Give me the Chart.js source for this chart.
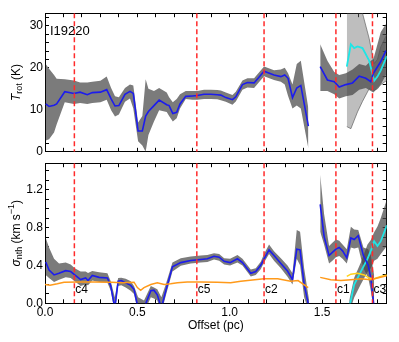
<!DOCTYPE html>
<html>
<head>
<meta charset="utf-8">
<script src="https://cdn.jsdelivr.net/npm/chart.js@4"></script>
<style>
  body { margin: 0; background: #fff; }
  #wrap { position: relative; width: 399px; height: 342px; overflow: hidden; }
  canvas { position: absolute; left: 0; }
  #topChart { top: 0; }
  #botChart { top: 150px; }
</style>
</head>
<body>
<div id="wrap">
  <canvas id="topChart" width="399" height="165"></canvas>
  <canvas id="botChart" width="399" height="192"></canvas>
</div>
<script>
// ---- top panel: T_rot (K) ----
// blue profile, first piece
const tOffA = [0.004, 0.022, 0.049, 0.063, 0.107, 0.157, 0.19, 0.229, 0.256, 0.30, 0.334, 0.358, 0.379, 0.40, 0.433, 0.46, 0.478, 0.504, 0.527, 0.545, 0.56, 0.59, 0.618, 0.659, 0.672, 0.692, 0.713, 0.731, 0.762, 0.798, 0.825, 0.861, 0.898, 0.933, 0.952, 0.979, 1.015, 1.033, 1.069, 1.096, 1.132, 1.186, 1.24, 1.277, 1.298, 1.316, 1.34, 1.363, 1.385, 1.426];
const tRotA = [11.4, 10.8, 11.1, 11.4, 14.3, 13.9, 14.2, 13.6, 14.1, 14.2, 14.8, 12.6, 10.9, 11.0, 13.7, 14.4, 13.9, 4.95, 4.95, 8.5, 9.6, 11.0, 12.3, 11.2, 11.0, 9.1, 9.4, 11.4, 13.2, 13.3, 13.4, 13.7, 13.7, 13.6, 13.5, 12.9, 12.4, 13.1, 16.0, 16.5, 16.4, 19.2, 18.3, 17.9, 18.3, 17.5, 12.9, 15.2, 15.8, 6.1];
const tLoA = [2.7, 3.0, 4.6, 6.5, 11.8, 11.4, 11.6, 11.4, 11.6, 11.8, 12.4, 9.9, 8.4, 8.9, 11.9, 12.7, 10.3, 2.5, 1.5, 0, 4, 7.2, 9.9, 9.5, 8.5, 7.2, 8.0, 10.3, 12.6, 12.4, 12.4, 12.6, 12.6, 12.5, 12.3, 11.9, 11.2, 12.0, 14.8, 15.3, 15.2, 18.0, 17.1, 16.7, 16.0, 13.3, 10.3, 11.0, 10.3, 0.8];
const tHiA = [20.9, 19.8, 18.3, 17.4, 17.3, 17.0, 16.5, 16.5, 16.7, 16.9, 17.9, 15.2, 13.2, 13.0, 15.2, 16.0, 15.8, 7.0, 8.5, 17.3, 15, 14.5, 15.2, 14.1, 13.0, 11.8, 12.6, 13.7, 14.5, 14.5, 14.5, 14.8, 14.8, 14.7, 14.6, 14.1, 13.5, 14.3, 17.0, 17.5, 17.5, 20.3, 19.4, 19.6, 20.0, 18.7, 16.0, 20.9, 21.7, 10.3];
// blue profile, second piece
const tOffB = [1.49, 1.529, 1.566, 1.593, 1.629, 1.665, 1.701, 1.737, 1.764, 1.778, 1.818, 1.846];
const tRotB = [20.3, 17.1, 16.7, 15.4, 16.0, 16.4, 18.0, 17.5, 16.7, 18.7, 21.5, 24.1];
const tLoB = [14.5, 14.5, 13.7, 12.7, 13.2, 13.5, 14.8, 15.2, 14.5, 14.1, 16.0, 18.3];
const tHiB = [25.6, 21.7, 19.0, 18.3, 18.7, 19.6, 20.9, 20.5, 21.7, 22.1, 28.5, 30.4];
// cyan profile
const tOffC = [1.634, 1.656, 1.674, 1.692, 1.719, 1.755, 1.782, 1.80, 1.818, 1.851];
const tRotC = [20.3, 25.6, 24.7, 25.1, 24.7, 21.7, 16.9, 17.9, 19.4, 22.8];
const tLoC = [6.0, 5.5, 7.5, 9.5, 12.0, 15.0, 14.6, 15.0, 16.0, 17.0];
const tHiC = [40, 40, 40, 38, 33, 27, 21, 22, 25, 28];

// ---- bottom panel: sigma_nth (km/s) ----
const sOffA = [0.004, 0.022, 0.049, 0.076, 0.112, 0.139, 0.161, 0.193, 0.22, 0.233, 0.256, 0.293, 0.338, 0.356, 0.378, 0.396, 0.413, 0.437, 0.464, 0.482, 0.504, 0.536, 0.573, 0.59, 0.608, 0.63, 0.654, 0.69, 0.735, 0.789, 0.843, 0.879, 0.915, 0.943, 0.97, 1.002, 1.042, 1.069, 1.114, 1.141, 1.168, 1.186, 1.213, 1.24, 1.277, 1.313, 1.34, 1.363, 1.381, 1.403, 1.43];
const sigA = [0.437, 0.351, 0.30, 0.318, 0.345, 0.335, 0.30, 0.25, 0.267, 0.24, 0.294, 0.274, 0.267, 0.183, -0.05, 0.233, 0.24, 0.216, 0.189, 0.148, -0.05, -0.05, 0.132, 0.138, 0.09, -0.05, 0.132, 0.386, 0.43, 0.453, 0.463, 0.47, 0.497, 0.487, 0.443, 0.43, 0.47, 0.43, 0.318, 0.335, 0.402, 0.47, 0.564, 0.504, 0.42, 0.341, 0.25, 0.572, 0.565, 0.2, -0.05];
const sLoA = [0.30, 0.267, 0.226, 0.25, 0.274, 0.267, 0.233, 0.183, 0.199, 0.19, 0.24, 0.226, 0.216, 0.132, -0.1, 0.183, 0.19, 0.166, 0.132, 0.097, -0.1, -0.1, 0.064, 0.05, 0.03, -0.1, 0.08, 0.335, 0.396, 0.42, 0.43, 0.437, 0.463, 0.45, 0.409, 0.40, 0.43, 0.40, 0.284, 0.30, 0.36, 0.43, 0.52, 0.45, 0.369, 0.28, 0.199, 0.47, 0.402, 0.064, -0.1];
const sHiA = [0.69, 0.59, 0.47, 0.42, 0.43, 0.41, 0.369, 0.335, 0.335, 0.32, 0.341, 0.328, 0.318, 0.233, 0.064, 0.267, 0.27, 0.26, 0.233, 0.183, 0.064, 0.03, 0.183, 0.166, 0.148, 0.064, 0.2, 0.43, 0.477, 0.494, 0.504, 0.51, 0.528, 0.52, 0.477, 0.47, 0.51, 0.47, 0.358, 0.37, 0.44, 0.52, 0.622, 0.55, 0.477, 0.40, 0.318, 0.775, 0.757, 0.369, 0.03];
const sOffB = [1.49, 1.511, 1.538, 1.556, 1.575, 1.593, 1.611, 1.634, 1.656, 1.674, 1.696, 1.724, 1.75, 1.764, 1.782];
const sigB = [1.046, 0.707, 0.504, 0.538, 0.572, 0.589, 0.554, 0.48, 0.69, 0.673, 0.714, 0.504, 0.402, 0.267, -0.05];
const sLoB = [0.757, 0.622, 0.42, 0.45, 0.487, 0.50, 0.47, 0.42, 0.589, 0.58, 0.589, 0.369, 0.267, 0.132, -0.1];
const sHiB = [1.356, 0.944, 0.605, 0.64, 0.673, 0.66, 0.622, 0.572, 0.808, 0.78, 0.775, 0.589, 0.572, 0.504, 0.3];
const sOffC = [1.647, 1.674, 1.71, 1.746, 1.764, 1.782, 1.80, 1.818, 1.851];
const sigC = [-0.05, 0.199, 0.335, 0.47, 0.554, 0.656, 0.605, 0.656, 0.825];
const sLoC = [-0.1, 0.06, 0.2, 0.33, 0.37, 0.45, 0.47, 0.52, 0.605];
const sHiC = [0.03, 0.27, 0.43, 0.62, 0.67, 0.75, 0.81, 0.9, 1.1];
// orange and yellow thermal lines (null = gap)
const orOff = [0.0, 0.027, 0.067, 0.103, 0.179, 0.27, 0.36, 0.415, 0.482, 0.5, 0.518, 0.536, 0.573, 0.608, 0.645, 0.68, 0.717, 0.77, 0.843, 0.933, 1.005, 1.06, 1.186, 1.26, 1.33, 1.37, 1.425, 1.46, 1.49, 1.547, 1.602, 1.656, 1.71, 1.764, 1.80, 1.851];
const orSig = [0.199, 0.192, 0.206, 0.223, 0.226, 0.226, 0.223, 0.216, 0.223, 0.166, 0.138, 0.166, 0.199, 0.216, 0.199, 0.206, 0.216, 0.226, 0.226, 0.223, 0.216, 0.233, 0.26, 0.26, 0.233, 0.24, 0.166, null, 0.274, 0.25, 0.24, 0.25, 0.26, 0.25, 0.267, 0.29];
const yeOff = [1.634, 1.656, 1.692, 1.728, 1.755, 1.782, 1.818, 1.851];
const yeSig = [0.284, 0.308, 0.318, 0.30, 0.267, 0.26, 0.284, 0.30];

// cores
const coreOff = [0.159, 0.822, 1.186, 1.575, 1.773];
const coreNames = ['c4', 'c5', 'c2', 'c1', 'c3'];

Chart.defaults.font.family = "'Liberation Sans', Arial, sans-serif";
Chart.defaults.font.size = 12;
Chart.defaults.color = '#000';

const BLUE = '#1c1ced', CYAN = '#1ee6e6', ORANGE = '#ff9a1a', YELLOW = '#ffd21a';

function pts(xs, ys) {
    return xs.map((x, i) => ({ x: x, y: ys[i] }));
}

function band(xs, lo, hi, color, edge) {
    return [
        { data: pts(xs, hi), fill: '+1', backgroundColor: color, borderColor: edge || 'transparent', borderWidth: edge ? 1 : 0, pointRadius: 0 },
        { data: pts(xs, lo), fill: false, borderColor: edge || 'transparent', borderWidth: edge ? 1 : 0, pointRadius: 0 },
    ];
}

function line(xs, ys, color, w) {
    return { data: pts(xs, ys), borderColor: color, borderWidth: w, pointRadius: 0, fill: false, tension: 0 };
}

const tickGrid = { drawOnChartArea: false, drawTicks: true, tickLength: -4, color: '#000', lineWidth: 1 };
const frame = { display: true, color: '#000', width: 1 };

function xAxis(pos, size, showLabels) {
    return {
        type: 'linear', position: pos, min: 0, max: 1.85,
        grid: tickGrid, border: frame,
        afterFit: s => { s.height = size; },
        ticks: {
            display: showLabels, stepSize: 0.1, autoSkip: false, maxRotation: 0, includeBounds: false, padding: 6,
            callback: v => Math.abs(v * 2 - Math.round(v * 2)) < 1e-6 ? v.toFixed(1) : '',
        },
        title: { display: showLabels, text: 'Offset (pc)', padding: { top: 0, bottom: 9 } },
    };
}

function yAxis(pos, size, max, step, labelFn) {
    return {
        type: 'linear', position: pos, min: 0, max: max,
        grid: tickGrid, border: frame,
        afterFit: s => { s.width = size; },
        ticks: { display: pos === 'left', stepSize: step, autoSkip: false, includeBounds: false, padding: 6, callback: labelFn },
    };
}

// dashed core lines, core names, panel text
const marks = {
    id: 'marks',
    afterDatasetsDraw(chart, args, opts) {
        const { ctx, chartArea: a, scales: { x } } = chart;
        ctx.save();
        ctx.beginPath();
        ctx.rect(a.left, a.top, a.width, a.height);
        ctx.clip();
        ctx.strokeStyle = '#ff2b2b';
        ctx.lineWidth = 1.5;
        ctx.setLineDash([5, 3]);
        coreOff.forEach(v => {
            const px = x.getPixelForValue(v);
            ctx.beginPath();
            ctx.moveTo(px, a.top);
            ctx.lineTo(px, a.bottom);
            ctx.stroke();
        });
        ctx.restore();

        ctx.save();
        ctx.fillStyle = '#000';
        ctx.font = "12px 'Liberation Sans', Arial, sans-serif";
        ctx.textBaseline = 'middle';
        if (opts.names) {
            coreNames.forEach((n, i) => {
                ctx.fillText(n, x.getPixelForValue(coreOff[i]) + 1, a.bottom - 14);
            });
        }
        if (opts.label) {
            ctx.font = "13px 'Liberation Sans', Arial, sans-serif";
            ctx.fillText(opts.label, a.left + 5, a.top + 18);
        }
        // y title with sub/superscripts
        const parts = opts.title;
        const fontOf = p => (p.it ? 'italic ' : '') + (p.small ? 9 : 12) + "px 'Liberation Sans', Arial, sans-serif";
        let w = 0;
        parts.forEach(p => { ctx.font = fontOf(p); w += ctx.measureText(p.t).width; });
        ctx.translate(17, (a.top + a.bottom) / 2);
        ctx.rotate(-Math.PI / 2);
        let cx = -w / 2;
        ctx.textAlign = 'left';
        parts.forEach(p => {
            ctx.font = fontOf(p);
            ctx.fillText(p.t, cx, p.dy || 0);
            cx += ctx.measureText(p.t).width;
        });
        ctx.restore();
    },
};

new Chart('topChart', {
    type: 'line',
    data: {
        datasets: [
            ...band(tOffA, tLoA, tHiA, '#7b7b7b'),
            ...band(tOffB, tLoB, tHiB, 'rgba(70,70,70,0.72)'),
            ...band(tOffC, tLoC, tHiC, 'rgba(110,110,110,0.45)', 'rgba(80,80,80,0.6)'),
            line(tOffA, tRotA, BLUE, 1.6),
            line(tOffB, tRotB, BLUE, 1.6),
            line(tOffC, tRotC, CYAN, 1.8),
        ],
    },
    options: {
        responsive: false, animation: false, devicePixelRatio: 1,
        layout: { padding: 0 },
        scales: {
            x: xAxis('bottom', 8, false),
            x2: xAxis('top', 12, false),
            y: yAxis('left', 45, 33, 2, v => v % 10 === 0 ? String(v) : ''),
            y2: yAxis('right', 12.3, 33, 2, () => ''),
        },
        plugins: {
            legend: { display: false },
            tooltip: { enabled: false },
            filler: { drawTime: 'beforeDatasetsDraw' },
            marks: {
                label: 'I19220',
                title: [{ t: 'T', it: true }, { t: 'rot', small: true, dy: 3 }, { t: ' (K)' }],
            },
        },
    },
    plugins: [marks],
});

new Chart('botChart', {
    type: 'line',
    data: {
        datasets: [
            ...band(sOffA, sLoA, sHiA, '#7b7b7b'),
            ...band(sOffB, sLoB, sHiB, 'rgba(70,70,70,0.72)'),
            ...band(sOffC, sLoC, sHiC, 'rgba(70,70,70,0.72)'),
            line(orOff, orSig, ORANGE, 1.5),
            line(yeOff, yeSig, YELLOW, 1.5),
            line(sOffA, sigA, BLUE, 1.6),
            line(sOffB, sigB, BLUE, 1.6),
            line(sOffC, sigC, CYAN, 1.8),
        ],
    },
    options: {
        responsive: false, animation: false, devicePixelRatio: 1,
        layout: { padding: 0 },
        scales: {
            x: xAxis('bottom', 38.7, true),
            x2: xAxis('top', 7, false),
            y: yAxis('left', 45, 1.48, 0.1, v => Math.abs(v / 0.4 - Math.round(v / 0.4)) < 1e-6 ? v.toFixed(1) : ''),
            y2: yAxis('right', 12.3, 1.48, 0.1, () => ''),
        },
        plugins: {
            legend: { display: false },
            tooltip: { enabled: false },
            filler: { drawTime: 'beforeDatasetsDraw' },
            marks: {
                names: true,
                title: [{ t: 'σ', it: true }, { t: 'nth', small: true, dy: 3 }, { t: ' (km s' }, { t: '−1', small: true, dy: -5 }, { t: ')' }],
            },
        },
    },
    plugins: [marks],
});
</script>
</body>
</html>
